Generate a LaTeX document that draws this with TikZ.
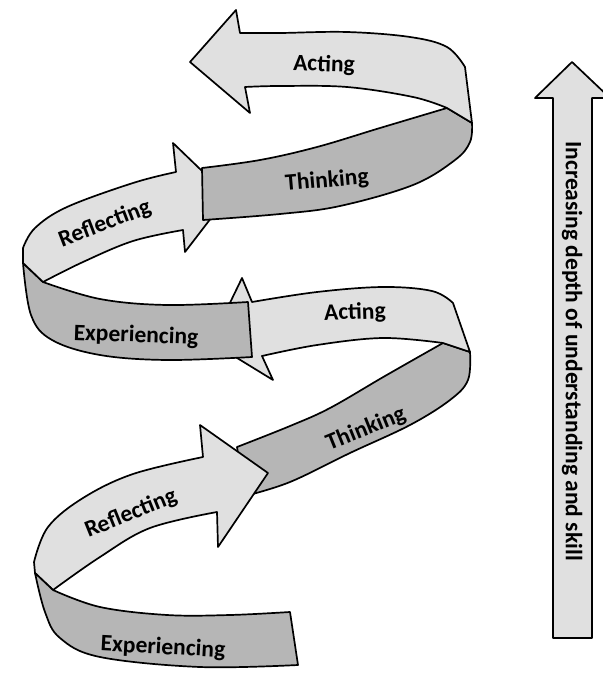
\documentclass[tikz,border=0pt]{standalone}
\usepackage{fontspec}
\setmainfont{Carlito}
\begin{document}
\begin{tikzpicture}[x=1pt,y=-1pt,
  lightband/.style={fill=lightfill,draw=black,line width=1.7pt,line join=round},
  darkband/.style={fill=darkfill,draw=black,line width=1.7pt,line join=round},
  lbl/.style={font=\bfseries\fontsize{23.5}{26}\selectfont,inner sep=0pt}]
\definecolor{lightfill}{RGB}{224,224,224}
\definecolor{darkfill}{RGB}{182,182,182}
\useasboundingbox (0,0) rectangle (602,674);

% ---------- lower loop ----------
% lower Thinking (dark)
\path[darkband] (443,343) -- (470,352)
  -- plot[smooth,tension=0.6] coordinates {(470,352) (468,380) (450,400) (410,425) (350,453) (290,482) (245,496)}
  -- (237,447)
  -- plot[smooth,tension=0.6] coordinates {(237,447) (290,426) (330,408) (385,376) (443,343)} -- cycle;
% lower Acting (light) with arrowhead
\path[lightband] (211,342) -- (242,278) -- (252,302)
  -- plot[smooth,tension=0.6] coordinates {(252,302) (317,292) (383,287) (432,291) (453,303)}
  -- (470,352) -- (443,343)
  -- plot[smooth,tension=0.6] coordinates {(443,343) (383,338) (317,345) (262,356)}
  -- (273,380) -- cycle;
% lower Reflecting (light) with arrowhead
\path[lightband] (200,425) -- (268,473) -- (218,547) -- (217,512)
  -- plot[smooth,tension=0.6] coordinates {(217,512) (150,528) (100,557) (53,590)}
  -- (35,573) -- (34,562)
  -- plot[smooth,tension=0.6] coordinates {(34,562) (48,527) (83,498) (133,474) (203,457)} -- cycle;
% bottom Experiencing (dark)
\path[darkband] (35,573) -- (53,590)
  -- plot[smooth,tension=0.6] coordinates {(53,590) (100,607) (167,615) (230,615) (290,612)}
  -- (298,665)
  -- plot[smooth,tension=0.6] coordinates {(298,665) (200,667) (100,657) (60,638) (45,612) (35,573)} -- cycle;

% ---------- upper loop ----------
% upper Experiencing (dark)
\path[darkband] (23,263) -- (43,282)
  -- plot[smooth,tension=0.6] coordinates {(43,282) (100,299) (167,305) (248,302)}
  -- (252,357)
  -- plot[smooth,tension=0.6] coordinates {(252,357) (167,360) (100,355) (52,340) (31,315) (23,263)} -- cycle;
% upper Reflecting (light) with arrowhead
\path[lightband] (173,143) -- (228,196) -- (185,252) -- (183,230)
  -- plot[smooth,tension=0.6] coordinates {(183,230) (133,241) (83,262) (43,282)}
  -- (23,263) -- (23,248)
  -- plot[smooth,tension=0.6] coordinates {(23,248) (35,228) (67,207) (133,183) (176,172)} -- cycle;
% upper Thinking (dark)
\path[darkband] (202,168)
  -- plot[smooth,tension=0.6] coordinates {(202,168) (260,160) (317,147) (380,128) (447,108)}
  -- (472,123)
  -- plot[smooth,tension=0.6] coordinates {(472,123) (470,142) (455,160) (413,185) (340,206) (280,214) (203,220)}
  -- cycle;
% top Acting (light) with arrowhead
\path[lightband] (190,62) -- (236,10) -- (240,33)
  -- plot[smooth,tension=0.6] coordinates {(240,33) (280,33) (347,32) (410,37) (447,47) (465,67)}
  -- (472,123) -- (447,108)
  -- plot[smooth,tension=0.6] coordinates {(447,108) (413,97) (347,87) (280,86) (245,87)}
  -- (250,113) -- cycle;

% ---------- labels ----------
\node[lbl,rotate=-2] (a2) at (324,65) {Acting};
\node[lbl,rotate=5] (t2) at (327,181) {Thinking};
\node[lbl,rotate=21] (r2) at (105,224) {Reflecting};
\node[lbl,rotate=-2] (e2) at (136,336) {Experiencing};
\node[lbl,rotate=2] (a1) at (355,313) {Acting};
\node[lbl,rotate=22] (t1) at (366,429) {Thinking};
\node[lbl,rotate=22] (r1) at (131,514) {Reflecting};
\node[lbl,rotate=-3] (e1) at (163,648) {Experiencing};

% ---------- vertical arrow ----------
\path[lightband] (572,62) -- (610,98) -- (592,98) -- (592,638) -- (553,638) -- (553,98) -- (535,98) -- cycle;
\node[lbl,rotate=-90] (depth) at (572,351) {Increasing depth of understanding and skill};
\end{tikzpicture}
\end{document}
